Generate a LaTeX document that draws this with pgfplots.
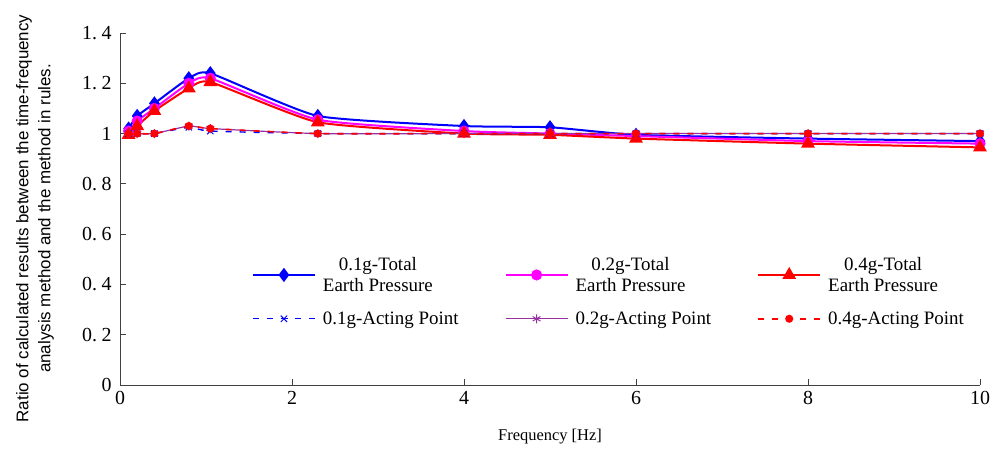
\documentclass[border=0pt]{standalone}
\usepackage{pgfplots}
\pgfplotsset{compat=1.18}
\usepackage{fontspec}
\setmainfont{Liberation Serif}
\newfontfamily\labelsans{Liberation Sans}
\definecolor{tblue}{RGB}{0,0,255}
\definecolor{tmag}{RGB}{255,0,255}
\definecolor{tred}{RGB}{255,0,0}
\definecolor{apurple}{RGB}{150,50,160}

\begin{document}
\begin{tikzpicture}
\useasboundingbox (0,0) rectangle (1003bp,457bp);
\begin{axis}[
  at={(120bp,72bp)}, anchor=south west,
  width=860bp, height=352bp, scale only axis,
  xmin=0, xmax=10, ymin=0, ymax=1.4,
  axis x line=bottom, axis y line=left,
  axis line style={-, black!75, line width=1bp},
  xtick={0,2,...,10},
  ytick={0,0.2,0.4,0.6,0.8,1,1.2,1.4},
  yticklabels={0,0.\hspace{0.22em}2,0.\hspace{0.22em}4,0.\hspace{0.22em}6,0.\hspace{0.22em}8,1,1.\hspace{0.22em}2,1.\hspace{0.22em}4},
  tick align=inside,
  major tick length=6bp,
  tick style={black!75, line width=0.8bp},
  /pgf/number format/assume math mode=true,
  ticklabel style={font=\fontsize{20}{22}\selectfont},
  yticklabel style={xshift=-5bp},
  xticklabel style={yshift=-3bp},
  xlabel={Frequency [Hz]},
  every axis x label/.style={at={(axis description cs:0.5,0)}, anchor=center, yshift=-52bp, font=\fontsize{16.5}{18}\selectfont},
  ylabel={Ratio of calculated results between the time-frequency\\analysis method and the method in rules.},
  every axis y label/.style={at={(axis description cs:-0.0988,0.473)}, rotate=90, anchor=center, align=center, font=\labelsans\fontsize{17}{22}\selectfont},
  legend columns=3,
  legend cell align=left,
  legend style={draw=none, fill=none, at={(axis description cs:0.1497,0.375)}, anchor=north west,
    font=\fontsize{19}{21}\selectfont,
    nodes={align=center, inner sep=2bp},
    /tikz/every even column/.append style={column sep=44bp},
    /tikz/every odd column/.append style={column sep=5bp},
    row sep=15bp},
  legend image code/.code={\draw[mark repeat=2,mark phase=2,#1] plot coordinates {(0bp,0bp) (31bp,0bp) (62bp,0bp)};},
  clip=false,
]
% total earth pressure ratios
\addplot[tblue, line width=2bp, smooth, tension=0.3, mark=diamond*, mark size=5.5bp, mark options={solid, fill=tblue}] coordinates {
(0.1,1.02) (0.2,1.07) (0.4,1.12) (0.8,1.22) (1.05,1.24) (2.3,1.07) (4,1.03) (5,1.025) (6,0.995) (8,0.98) (10,0.97)};
\addlegendentry{0.1g-Total\\Earth Pressure}
\addplot[tmag, line width=2bp, smooth, tension=0.3, mark=*, mark size=4.5bp, mark options={solid, fill=tmag}] coordinates {
(0.1,1.01) (0.2,1.05) (0.4,1.10) (0.8,1.20) (1.05,1.22) (2.3,1.055) (4,1.01) (5,1.0) (6,0.99) (8,0.97) (10,0.96)};
\addlegendentry{0.2g-Total\\Earth Pressure}
\addplot[tred, line width=2bp, smooth, tension=0.3, mark=triangle*, mark size=6bp, mark options={solid, fill=tred}] coordinates {
(0.1,0.995) (0.2,1.03) (0.4,1.09) (0.8,1.18) (1.05,1.205) (2.3,1.045) (4,1.0) (5,0.995) (6,0.98) (8,0.96) (10,0.945)};
\addlegendentry{0.4g-Total\\Earth Pressure}
% acting point ratios
\addplot[tblue, line width=1.4bp, dash pattern=on 6bp off 8bp, smooth, tension=0.3, mark=x, mark size=4.5bp, mark options={solid, line width=1bp}] coordinates {
(0.1,1.0) (0.2,1.0) (0.4,1.0) (0.8,1.025) (1.05,1.01) (2.3,1.0) (4,1.0) (5,1.0) (6,1.0) (8,1.0) (10,1.0)};
\addlegendentry{0.1g-Acting Point}
\addplot[apurple, line width=1.2bp, smooth, tension=0.3, mark=asterisk, mark size=4.5bp, mark options={solid, line width=1bp}] coordinates {
(0.1,1.0) (0.2,1.0) (0.4,1.0) (0.8,1.03) (1.05,1.02) (2.3,1.0) (4,1.0) (5,1.0) (6,1.0) (8,1.0) (10,1.0)};
\addlegendentry{0.2g-Acting Point}
\addplot[tred, line width=1.6bp, dash pattern=on 6bp off 8bp, smooth, tension=0.3, mark=*, mark size=3.2bp, mark options={solid, fill=tred}] coordinates {
(0.1,1.0) (0.2,1.0) (0.4,1.0) (0.8,1.03) (1.05,1.02) (2.3,1.0) (4,1.0) (5,1.0) (6,1.0) (8,1.0) (10,1.0)};
\addlegendentry{0.4g-Acting Point}
\end{axis}
\end{tikzpicture}
\end{document}
